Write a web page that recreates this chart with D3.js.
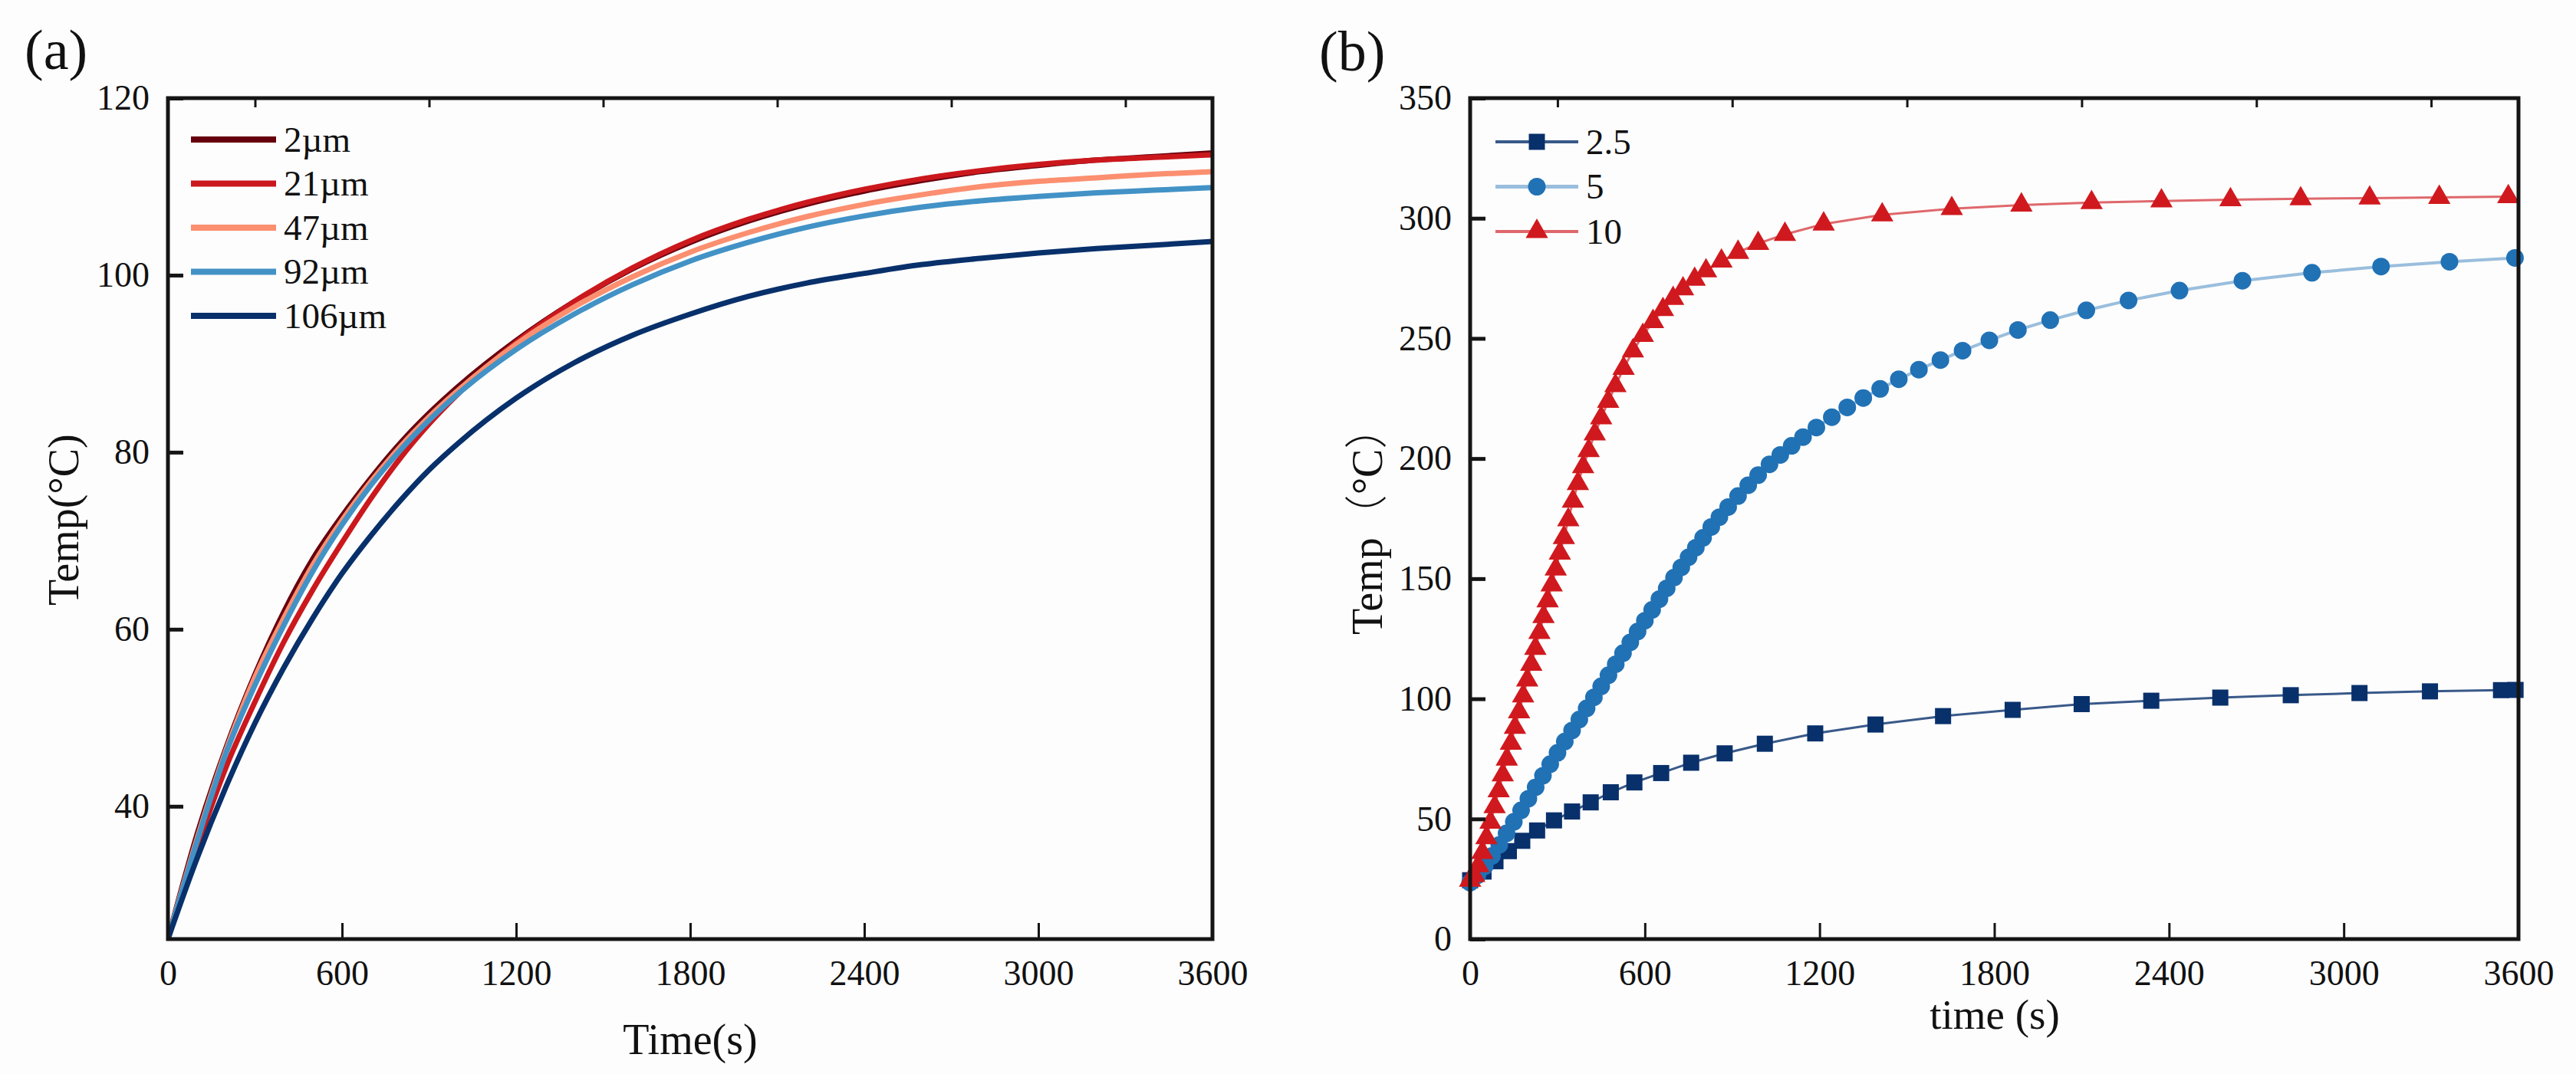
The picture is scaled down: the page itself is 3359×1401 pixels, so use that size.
<!DOCTYPE html>
<html>
<head>
<meta charset="utf-8">
<script src="https://cdn.jsdelivr.net/npm/d3@7"></script>
<style>
  html, body { margin: 0; padding: 0; background: #fdfdfd; }
  svg { display: block; }
  text { font-family: "Liberation Serif", "Times New Roman", serif; fill: #111; }
</style>
</head>
<body>
<svg id="chart" width="3359" height="1401"></svg>
<script>
// ---- panel (a): temperature vs time for several thicknesses ----
const timeA = [0, 100, 200, 300, 400, 500, 600, 700, 800, 900, 1000,
  1200, 1400, 1600, 1800, 2000, 2200, 2400, 2600, 2800, 3000, 3200, 3400, 3600];
const labelsA = ["2µm", "21µm", "47µm", "92µm", "106µm"];
const temp2um = [25, 36.8, 46.6, 54.9, 62, 68, 72.8, 77.1, 81, 84.4, 87.4,
  92.6, 97, 100.7, 103.7, 106.1, 108, 109.5, 110.7, 111.7, 112.4, 113, 113.4, 113.8];
const temp21um = [25, 35.3, 44.4, 51.8, 58.6, 64.5, 69.8, 74.8, 79.3, 83.2, 86.6,
  92.4, 97, 100.8, 103.9, 106.3, 108.2, 109.7, 110.9, 111.8, 112.5, 113, 113.3, 113.6];
const temp47um = [25, 36.3, 46.3, 54.6, 61.3, 67.3, 72.3, 76.7, 80.6, 84, 87,
  92.2, 96.4, 99.8, 102.6, 104.8, 106.6, 108, 109.1, 110, 110.6, 111, 111.4, 111.7];
const temp92um = [25, 36, 46, 53.7, 60.5, 66.6, 71.8, 76.3, 80.2, 83.6, 86.6,
  91.6, 95.6, 98.9, 101.6, 103.7, 105.4, 106.7, 107.7, 108.4, 108.9, 109.3, 109.6, 109.9];
const temp106um = [25, 34.1, 42.2, 49.4, 55.7, 61.3, 66.3, 70.6, 74.5, 78, 81,
  86.1, 90.1, 93.2, 95.6, 97.6, 99.1, 100.2, 101.2, 101.9, 102.5, 103, 103.4, 103.8];
const xTicksA = [0, 600, 1200, 1800, 2400, 3000, 3600];
const xMinorA = [300, 900, 1500, 2100, 2700, 3300];
const yTicksA = [40, 60, 80, 100, 120];

// ---- panel (b): temperature vs time for three power levels ----
const labelsB = ["2.5", "5", "10"];
const timeB25 = [0, 46, 87, 133, 179, 230, 288, 350, 414, 483, 564, 656, 759, 874, 1012,
  1185, 1392, 1624, 1863, 2100, 2339, 2576, 2818, 3054, 3296, 3540, 3590];
const tempB25 = [24.5, 28.1, 32.4, 36.6, 40.9, 45.2, 49.4, 53.1, 56.9, 61.1, 65.2, 69.1, 73.4, 77.3, 81.3,
  85.6, 89.3, 92.8, 95.4, 97.8, 99.2, 100.5, 101.5, 102.4, 103.1, 103.6, 103.7];
const timeB5 = [0, 25, 50, 75, 100, 125, 150, 175, 200, 225, 250, 275, 300, 325, 350, 375, 400, 425,
  450, 475, 500, 525, 550, 575, 600, 625, 650, 675, 700, 725, 750, 775,
  800, 828, 856, 886, 920, 955, 989, 1028, 1065, 1104, 1143, 1189, 1242, 1295, 1350, 1408,
  1472, 1541, 1615, 1691, 1783, 1881, 1992, 2116, 2261, 2436, 2652, 2891, 3128, 3363, 3588];
const tempB5 = [23.5, 26.5, 30.3, 34.6, 39.2, 44, 48.8, 53.6, 58.4, 63.2, 68, 72.8, 77.5, 82.2, 86.8, 91.4, 96, 100.6,
  105.2, 109.8, 114.4, 119, 123.5, 128, 132.5, 137, 141.5, 146, 150.4, 154.7, 158.9, 162.9,
  167, 171.5, 175.6, 179.8, 184.4, 188.9, 193.1, 197.6, 201.5, 205.3, 208.9, 212.9, 217.2, 221.3, 225.2, 229,
  233, 237, 241, 244.9, 249.2, 253.5, 257.6, 261.7, 265.8, 269.9, 274, 277.3, 279.9, 281.9, 283.5];
const timeB10 = [0, 14, 28, 42, 56, 70, 84, 98, 112, 126, 140, 154, 168, 182, 196, 210, 224, 238, 252, 266, 280, 294, 308, 322,
  337, 353, 370, 388, 407, 428, 450, 474, 499, 527,
  559, 593, 628, 662, 697, 731, 771, 810, 863,
  920, 989, 1081, 1214, 1415, 1654, 1893, 2134, 2374, 2611, 2852, 3089, 3328, 3565];
const tempB10 = [24.5, 26.5, 30.5, 36, 42.2, 48.6, 55.1, 61.7, 68.3, 74.9, 81.5, 88.1, 94.6, 101.2, 107.8, 114.4, 121, 127.6, 134.2, 140.8, 147.4, 154, 160.6, 167.1,
  174.5, 182.2, 189.6, 196.6, 203.3, 210.2, 216.9, 223.8, 230.3, 237.5,
  244.8, 251.2, 257, 262, 266.6, 270.6, 274.6, 278.1, 282.2,
  285.8, 289.5, 293.3, 297.6, 301.4, 304, 305.5, 306.5, 307.2, 307.7, 308.1, 308.4, 308.7, 309];
const xTicksB = [0, 600, 1200, 1800, 2400, 3000, 3600];
const xMinorB = [300, 900, 1500, 2100, 2700, 3300];
const yTicksB = [0, 50, 100, 150, 200, 250, 300, 350];

// styles
const colorsA = ["#67000d", "#cb181d", "#fb8f70", "#4292c6", "#08306b"];
const colorsB = ["#08306b", "#2171b5", "#d0191e"];
const symbolsB = [d3.symbolSquare, d3.symbolCircle, d3.symbolTriangle];
const symbolSizeB = [441, 415, 370];
const INK = "#151515";
const FONT = "Liberation Serif, Times New Roman, serif";

const svg = d3.select("#chart");
svg.append("rect").attr("width", 3359).attr("height", 1401).attr("fill", "#fdfdfd");

function drawAxes(g, x, y, xTicks, xMinor, yTicks) {
    const [x0, x1] = x.range();
    const [yb, yt] = y.range();

    // bottom axis, ticks pointing in
    g.append("g")
        .attr("transform", `translate(0,${yb})`)
        .call(d3.axisBottom(x).tickValues(xTicks).tickSize(-21).tickPadding(27).tickFormat(d3.format("d")))
        .call(a => a.select(".domain").remove())
        .call(a => a.selectAll("line").attr("stroke", INK).attr("stroke-width", 3))
        .call(a => a.selectAll("text").attr("font-size", 46).attr("font-family", FONT).attr("fill", INK));

    // top axis, short unlabeled ticks
    g.append("g")
        .attr("transform", `translate(0,${yt})`)
        .call(d3.axisTop(x).tickValues(xMinor).tickSize(-12).tickFormat(() => ""))
        .call(a => a.select(".domain").remove())
        .call(a => a.selectAll("line").attr("stroke", INK).attr("stroke-width", 3));

    // left axis
    g.append("g")
        .attr("transform", `translate(${x0},0)`)
        .call(d3.axisLeft(y).tickValues(yTicks).tickSize(-20).tickPadding(24).tickFormat(d3.format("d")))
        .call(a => a.select(".domain").remove())
        .call(a => a.selectAll("line").attr("stroke", INK).attr("stroke-width", 5))
        .call(a => a.selectAll("text").attr("font-size", 46).attr("font-family", FONT).attr("fill", INK));

    // frame
    g.append("rect")
        .attr("x", x0).attr("y", yt)
        .attr("width", x1 - x0).attr("height", yb - yt)
        .attr("fill", "none")
        .attr("stroke", INK)
        .attr("stroke-width", 5);
}

// ================= panel (a) =================
const xA = d3.scaleLinear().domain([0, 3600]).range([219, 1581]);
const yA = d3.scaleLinear().domain([25, 120]).range([1225, 128]);
const gA = svg.append("g");

gA.append("clipPath").attr("id", "clipA")
    .append("rect").attr("x", 219).attr("y", 128).attr("width", 1362).attr("height", 1097);

const seriesA = [temp2um, temp21um, temp47um, temp92um, temp106um];
const lineA = d3.line()
    .x((d, i) => xA(timeA[i]))
    .y(d => yA(d))
    .curve(d3.curveMonotoneX);

gA.append("g").attr("clip-path", "url(#clipA)")
    .selectAll("path")
    .data(seriesA)
    .enter()
    .append("path")
    .attr("d", d => lineA(d))
    .attr("fill", "none")
    .attr("stroke", (d, i) => colorsA[i])
    .attr("stroke-width", 7)
    .attr("stroke-linejoin", "round");

drawAxes(gA, xA, yA, xTicksA, xMinorA, yTicksA);

// legend (a)
labelsA.forEach((lab, i) => {
    const ly = 182 + i * 57.5;
    gA.append("line")
        .attr("x1", 249).attr("x2", 360)
        .attr("y1", ly).attr("y2", ly)
        .attr("stroke", colorsA[i])
        .attr("stroke-width", 8);
    gA.append("text")
        .attr("x", 370).attr("y", ly)
        .attr("dy", "0.34em")
        .attr("font-size", 47)
        .text(lab);
});

gA.append("text")
    .attr("x", 900).attr("y", 1375)
    .attr("text-anchor", "middle")
    .attr("font-size", 56)
    .text("Time(s)");

gA.append("text")
    .attr("transform", "translate(102,790) rotate(-90)")
    .attr("font-size", 56)
    .text("Temp(°C)");

gA.append("text")
    .attr("x", 32).attr("y", 90)
    .attr("font-size", 74)
    .text("(a)");

// ================= panel (b) =================
const xB = d3.scaleLinear().domain([0, 3600]).range([1917, 3284]);
const yB = d3.scaleLinear().domain([0, 350]).range([1225, 128]);
const gB = svg.append("g");

const seriesB = [
    { time: timeB25, temp: tempB25 },
    { time: timeB5, temp: tempB5 },
    { time: timeB10, temp: tempB10 }
];
const lineStyleB = [
    { width: 3, opacity: 0.8 },
    { width: 4, opacity: 0.45 },
    { width: 3, opacity: 0.65 }
];

seriesB.forEach((s, k) => {
    const pts = s.time.map((t, i) => [t, s.temp[i]]);
    gB.append("path")
        .attr("d", d3.line().x(d => xB(d[0])).y(d => yB(d[1]))(pts))
        .attr("fill", "none")
        .attr("stroke", colorsB[k])
        .attr("stroke-width", lineStyleB[k].width)
        .attr("stroke-opacity", lineStyleB[k].opacity);

    gB.append("g")
        .selectAll("path")
        .data(pts)
        .enter()
        .append("path")
        .attr("d", d3.symbol().type(symbolsB[k]).size(symbolSizeB[k]))
        .attr("transform", d => `translate(${xB(d[0])},${yB(d[1])})`)
        .attr("fill", colorsB[k]);
});

drawAxes(gB, xB, yB, xTicksB, xMinorB, yTicksB);

// legend (b)
labelsB.forEach((lab, k) => {
    const ly = 185 + k * 58.5;
    gB.append("line")
        .attr("x1", 1950).attr("x2", 2058)
        .attr("y1", ly).attr("y2", ly)
        .attr("stroke", colorsB[k])
        .attr("stroke-width", lineStyleB[k].width + 1)
        .attr("stroke-opacity", lineStyleB[k].opacity);
    gB.append("path")
        .attr("d", d3.symbol().type(symbolsB[k]).size(symbolSizeB[k]))
        .attr("transform", `translate(2004,${ly})`)
        .attr("fill", colorsB[k]);
    gB.append("text")
        .attr("x", 2068).attr("y", ly)
        .attr("dy", "0.34em")
        .attr("font-size", 47)
        .text(lab);
});

gB.append("text")
    .attr("x", 2601).attr("y", 1342)
    .attr("text-anchor", "middle")
    .attr("font-size", 55)
    .text("time (s)");

const yTitleB = gB.append("text")
    .attr("transform", "translate(1802,828) rotate(-90)")
    .attr("font-size", 56);
yTitleB.append("tspan").text("Temp");
yTitleB.append("tspan").style("font-family", "Noto Sans CJK SC").attr("font-weight", 300).text("（");
yTitleB.append("tspan").text("°C");
yTitleB.append("tspan").style("font-family", "Noto Sans CJK SC").attr("font-weight", 300).text("）");

gB.append("text")
    .attr("x", 1720).attr("y", 92)
    .attr("font-size", 74)
    .text("(b)");
</script>
</body>
</html>
